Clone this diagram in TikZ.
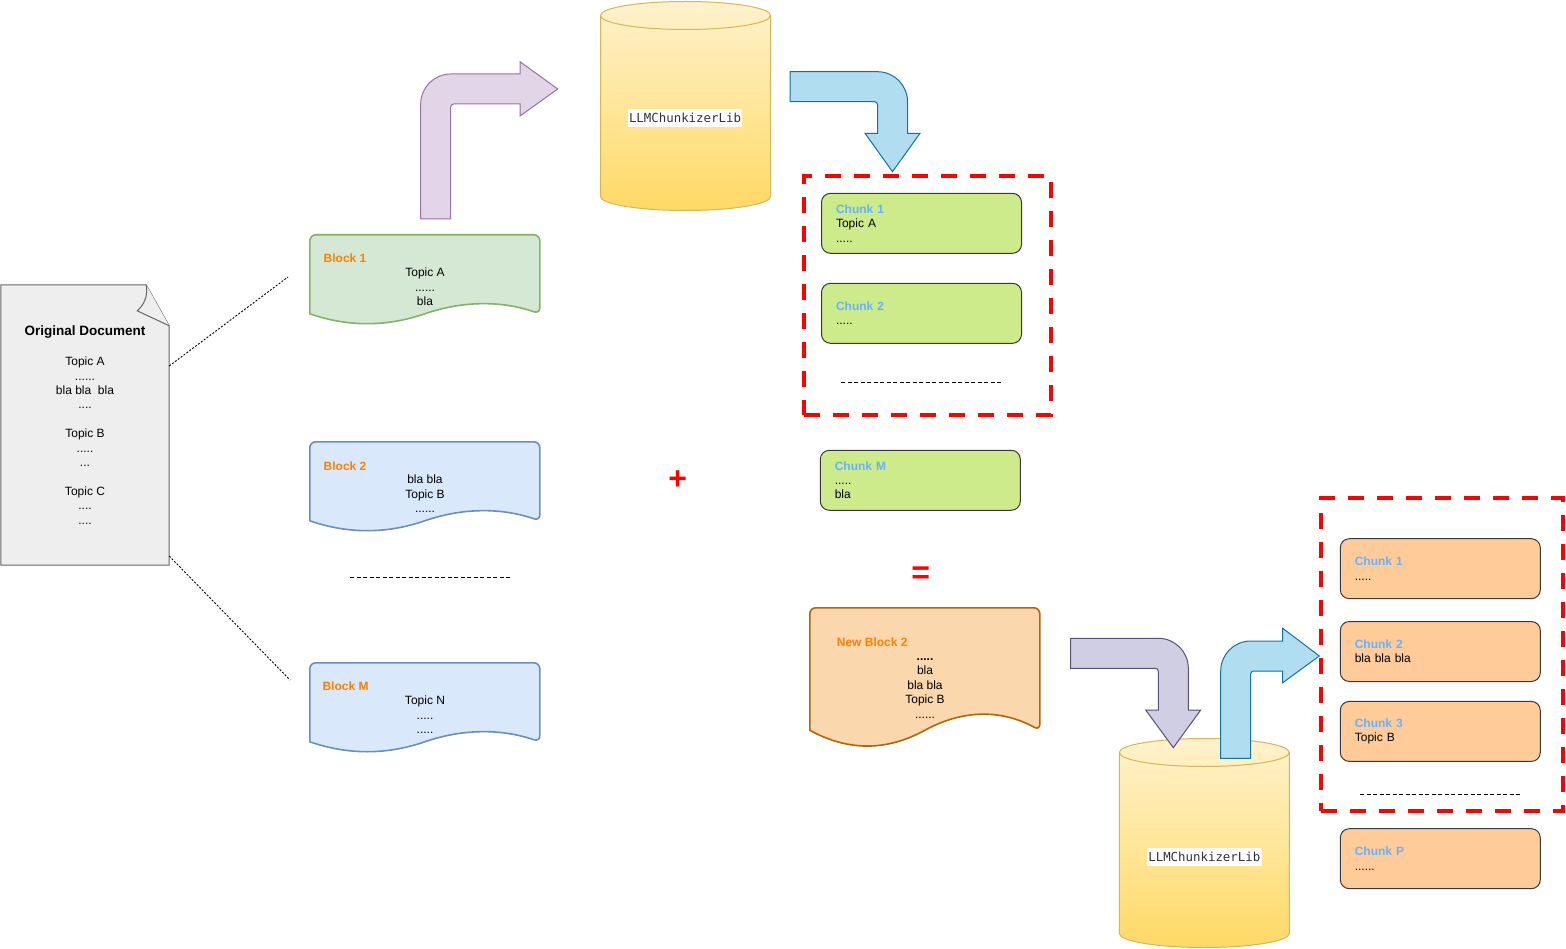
\documentclass[tikz,border=0pt]{standalone}
\usepackage{fontspec}
\setmainfont{Liberation Sans}
\newfontfamily\libfont{DejaVu Sans Mono}
\definecolor{docfill}{HTML}{EEEEEE}
\definecolor{docline}{HTML}{666666}
\definecolor{blkgreen}{HTML}{D5E8D4}
\definecolor{blkgreenline}{HTML}{82B366}
\definecolor{blkblue}{HTML}{DAE8FC}
\definecolor{blkblueline}{HTML}{6C8EBF}
\definecolor{blkorange}{HTML}{FAD7AC}
\definecolor{blkorangeline}{HTML}{B46504}
\definecolor{lblorange}{HTML}{FF8000}
\definecolor{chunkgreen}{HTML}{CDEB8B}
\definecolor{chunkorange}{HTML}{FFCC99}
\definecolor{chunkline}{HTML}{36393D}
\definecolor{chunkblue}{HTML}{66B2FF}
\definecolor{cyltop}{HTML}{FFF2CC}
\definecolor{cylbot}{HTML}{FFD966}
\definecolor{cylline}{HTML}{D6B656}
\definecolor{arrowlilac}{HTML}{E1D5E7}
\definecolor{arrowlilacline}{HTML}{9673A6}
\definecolor{arrowsky}{HTML}{B1DDF0}
\definecolor{arrowskyline}{HTML}{10739E}
\definecolor{arrowslate}{HTML}{D0CEE2}
\definecolor{arrowslateline}{HTML}{56517E}

\tikzset{
  every node/.style={font=\fontsize{12}{14.4}\selectfont},
  docarea/.style={rectangle, minimum width=168, minimum height=280, inner sep=0},
  docedge/.style={fill=docfill, draw=docline, line width=1},
  blockarea/.style={rectangle, minimum width=230, minimum height=#1, inner sep=0},
  blockedge/.style 2 args={fill=#1, draw=#2, line width=1.6},
  blocklbl/.style={anchor=base west, inner sep=0, text=lblorange, font=\bfseries\fontsize{12}{14.4}\selectfont},
  blocktxt/.style={align=center, inner sep=0},
  chunkbox/.style={rectangle, rounded corners=9, draw=chunkline, line width=1, fill=#1,
    minimum width=200, minimum height=60, text width=171, inner xsep=14.5, inner ysep=0, align=left},
  redframe/.style={rectangle, draw=red, line width=4.3, dash pattern=on 16pt off 13pt},
  sepline/.style={line width=1, dash pattern=on 4pt off 2.5pt},
  dotline/.style={line width=0.9, dash pattern=on 2pt off 1.6pt},
  opsign/.style={text=red, inner sep=0, font=\bfseries\fontsize{32}{32}\selectfont},
  liblabel/.style={fill=white, inner xsep=1.5, inner ysep=0, minimum height=17.7, text=black!80,
    font=\libfont\fontsize{12.4}{14}\selectfont},
  cylbody/.style={draw=cylline, line width=1, top color=cyltop, bottom color=cylbot},
  lilacarrow/.style={fill=arrowlilac, draw=arrowlilacline, line width=1},
  skyarrow/.style={fill=arrowsky, draw=arrowskyline, line width=1},
  slatearrow/.style={fill=arrowslate, draw=arrowslateline, line width=1},
}

% block with wavy bottom: node, height, wave depth, style
\newcommand{\wavedoc}[4]{%
  \pgfmathsetmacro\wy{#2-#3/2}%
  \pgfmathsetmacro\wu{\wy-0.6*#3}%
  \pgfmathsetmacro\wl{\wy+0.6*#3}%
  \draw[#4, shift={(#1.north west)}] (0,\wy) [rounded corners=6] -- (0,0) -- (230,0) -- (230,\wy)
    [sharp corners] .. controls (191.67,\wu) and (153.33,\wu) .. (115,\wy)
    .. controls (76.67,\wl) and (38.33,\wl) .. (0,\wy) -- cycle;}

% library cylinder: left x, top y
\newcommand{\libcyl}[2]{%
  \path[cylbody, shift={(#1,#2)}] (0,14) -- (0,195) arc[start angle=180, end angle=0, x radius=85, y radius=14]
    -- (170,14) arc[start angle=0, end angle=-180, x radius=85, y radius=14] -- cycle;
  \draw[cylline, line width=1, shift={(#1,#2)}] (0,14) arc[start angle=180, end angle=0, x radius=85, y radius=14];}

\newcommand{\chunkname}[1]{\textcolor{chunkblue}{\textbf{#1}}}

\begin{document}
\begin{tikzpicture}[x=1pt, y=-1pt]
\useasboundingbox (0,0) rectangle (1566,949);

% original document
\node[docarea] (origdoc) at (85,425) {};
\draw[docedge] (origdoc.south west) |- ([xshift=-23pt]origdoc.north east)
  -- ([yshift=-41pt]origdoc.north east) |- (origdoc.south west) -- cycle;
\draw[docedge] ([xshift=-23pt]origdoc.north east) .. controls +(2,11) and +(7,-6) .. +(-9,26)
  -- ([yshift=-41pt]origdoc.north east);
\node[font=\bfseries\fontsize{13.5}{16}\selectfont] (doctitle) at (85,332.5) {Original Document};
\node[blocktxt] (doctext) at (85,440.6) {Topic A\\......\\bla bla\ \ bla\\....\\[14.4pt]Topic B\\.....\\...\\[14.4pt]Topic C\\....\\....};

\coordinate (blk1dot) at (288,277);
\coordinate (blkMdot) at (290,680);
\draw[dotline] ([yshift=59pt]origdoc.east) -- (blk1dot);
\draw[dotline] ([yshift=-131pt]origdoc.east) -- (blkMdot);

% blocks
\node[blockarea=90] (blk1) at (425,280) {};
\wavedoc{blk1}{90}{22}{blockedge={blkgreen}{blkgreenline}}
\node[blocklbl] (blk1lbl) at (323.5,262.6) {Block 1};
\node[blocktxt] (blk1txt) at (425,287.1) {Topic A\\......\\bla};

\node[blockarea=90] (blk2) at (425,487) {};
\wavedoc{blk2}{90}{22}{blockedge={blkblue}{blkblueline}}
\node[blocklbl] (blk2lbl) at (323.5,470) {Block 2};
\node[blocktxt] (blk2txt) at (425,493.9) {bla bla\\Topic B\\......};

\draw[sepline] (350,577.7) -- (510,577.7);

\node[blockarea=90] (blkM) at (425,708) {};
\wavedoc{blkM}{90}{22}{blockedge={blkblue}{blkblueline}}
\node[blocklbl] (blkMlbl) at (322.3,690.3) {Block M};
\node[blocktxt] (blkMtxt) at (425,714.9) {Topic N\\.....\\.....};

% first pass through the library
\draw[lilacarrow] (420.7,219) -- (420.7,104) .. controls (420.7,87.4) and (434.1,74) .. (450.7,74)
  -- (520,74) -- (520,61.7) -- (557.7,89) -- (520,116) -- (520,104) -- (453.7,104)
  .. controls (452,104) and (450.7,105.3) .. (450.7,107) -- (450.7,219) -- cycle;
\libcyl{600.5}{1.5}
\node[liblabel] (lib1) at (685,118) {LLMChunkizerLib};
\draw[skyarrow] (790,71.7) -- (877.5,71.7) .. controls (894.1,71.7) and (907.5,85.1) .. (907.5,101.7)
  -- (907.5,133.3) -- (920,133.3) -- (892.5,171.7) -- (865,133.3) -- (877.5,133.3) -- (877.5,104.7)
  .. controls (877.5,103) and (876.2,101.7) .. (874.5,101.7) -- (790,101.7) -- cycle;

% green chunks
\node[chunkbox=chunkgreen] (gc1) at (921.5,223.3) {\chunkname{Chunk 1}\\Topic A\\.....};
\node[chunkbox=chunkgreen] (gc2) at (921.5,313.3) {\chunkname{Chunk 2}\\.....};
\draw[sepline] (841,382.3) -- (1001,382.3);
\node[chunkbox=chunkgreen] (gcM) at (920.3,480.3) {\chunkname{Chunk M}\\.....\\bla};

\node[opsign] (plus) at (677.7,480) {+};
\node[opsign] (equals) at (920.7,575) {=};

% new block
\node[blockarea=140] (newblk) at (925,678) {};
\wavedoc{newblk}{140}{35}{blockedge={blkorange}{blkorangeline}}
\node[blocklbl] (newblklbl) at (836.7,646) {New Block 2};
\node[blocktxt] (newblktxt) at (925,684.8) {\rule{0pt}{8.8pt}\textbf{.....}\\bla\\bla bla\\Topic B\\......};

% second pass through the library
\libcyl{1119.3}{738.5}
\node[liblabel] (lib2) at (1204.3,856.7) {LLMChunkizerLib};
\draw[slatearrow] (1070.5,638.3) -- (1158.3,638.3) .. controls (1174.9,638.3) and (1188.3,651.7) .. (1188.3,668.3)
  -- (1188.3,710) -- (1200.7,710) -- (1173.3,747.7) -- (1145.7,710) -- (1158.3,710) -- (1158.3,671.3)
  .. controls (1158.3,669.6) and (1157,668.3) .. (1155.3,668.3) -- (1070.5,668.3) -- cycle;
\draw[skyarrow] (1220.7,758.3) -- (1220.7,671) .. controls (1220.7,654.4) and (1234.1,641) .. (1250.7,641)
  -- (1282.7,641) -- (1282.7,628.3) -- (1319.3,656) -- (1282.7,682.7) -- (1282.7,671) -- (1253.7,671)
  .. controls (1252,671) and (1250.7,672.3) .. (1250.7,674) -- (1250.7,758.3) -- cycle;

% orange chunks
\node[chunkbox=chunkorange] (oc1) at (1440.3,568.7) {\chunkname{Chunk 1}\\.....};
\node[chunkbox=chunkorange] (oc2) at (1440.3,651.5) {\chunkname{Chunk 2}\\bla bla bla};
\node[chunkbox=chunkorange] (oc3) at (1440.3,731.4) {\chunkname{Chunk 3}\\Topic B};
\draw[sepline] (1360,794) -- (1520,794);
\node[chunkbox=chunkorange] (ocP) at (1440.3,858.7) {\chunkname{Chunk P}\\......};

% dashed groups
\node[redframe, minimum width=246.8, minimum height=239.3] (group1) at (927.4,295.35) {};
\node[redframe, minimum width=242.5, minimum height=312.5] (group2) at (1442,654.5) {};
\end{tikzpicture}
\end{document}
